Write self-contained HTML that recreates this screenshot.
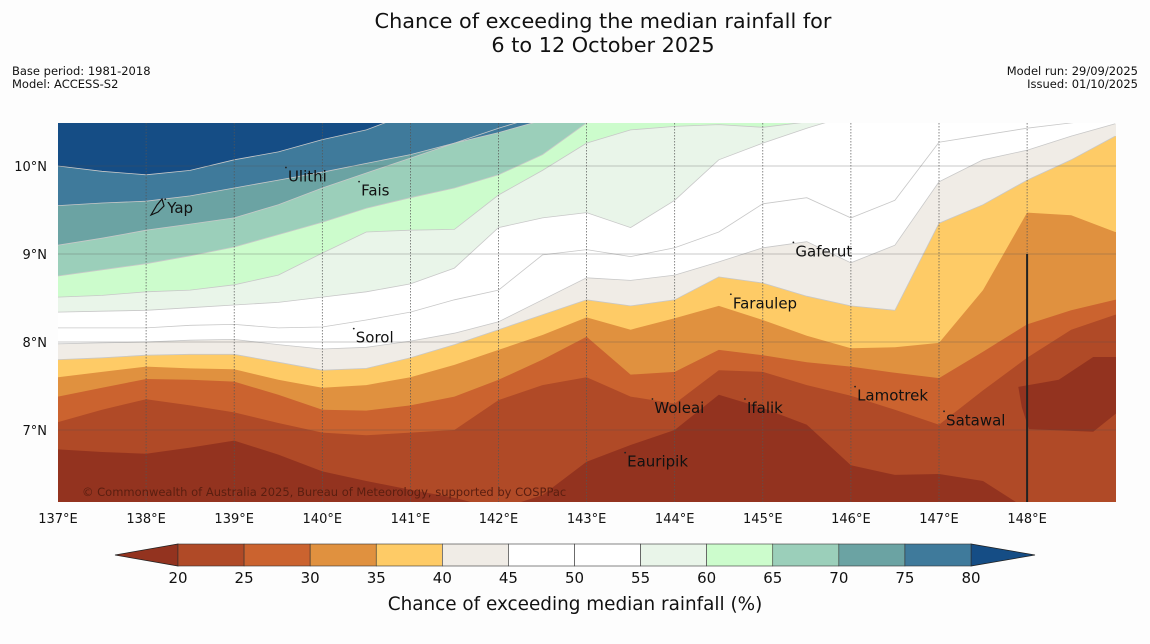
<!DOCTYPE html>
<html><head><meta charset="utf-8">
<style>
html,body{margin:0;padding:0;background:#fdfdfd;}
svg{display:block;font-family:"DejaVu Sans","Liberation Sans",sans-serif;}
</style></head>
<body>
<svg id="chart" width="1150" height="644" viewBox="0 0 1150 644" xmlns="http://www.w3.org/2000/svg">
<rect x="0" y="0" width="1150" height="644" fill="#fdfdfd"/>
<text x="603" y="28" font-size="20.8" text-anchor="middle" fill="#111">Chance of exceeding the median rainfall for</text>
<text x="603" y="52" font-size="20.8" text-anchor="middle" fill="#111">6 to 12 October 2025</text>
<text x="12" y="75" font-size="11.5" fill="#111">Base period: 1981-2018</text>
<text x="12" y="88" font-size="11.5" fill="#111">Model: ACCESS-S2</text>
<text x="1138" y="75" font-size="11.5" fill="#111" text-anchor="end">Model run: 29/09/2025</text>
<text x="1138" y="88" font-size="11.5" fill="#111" text-anchor="end">Issued: 01/10/2025</text>
<defs><clipPath id="mapclip"><rect x="58" y="123" width="1058" height="379"/></clipPath></defs>
<g id="map" clip-path="url(#mapclip)"></g>
<g id="overlay"></g>
<g id="axes"></g>
<g id="cbar"></g>
<text x="575" y="610" font-size="18.4" text-anchor="middle" fill="#111">Chance of exceeding median rainfall (%)</text>
</svg>
<script>
const lons = [137,137.5,138,138.5,139,139.5,140,140.5,141,141.5,142,142.5,143,143.5,144,144.5,145,145.5,146,146.5,147,147.5,148,148.5,149];
const levels = [20,25,30,35,40,45,50,55,60,65,70,75,80];
const bandColors = ["#93331f","#b04a27","#cb632f","#e0913f","#fecb66","#f0ece6","#ffffff","#ffffff","#e9f5e9","#ccfccc","#9bcfba","#6ba3a3","#3f7a9b","#154d85"];
const c20 = [6.78,6.75,6.73,6.80,6.88,6.72,6.53,6.42,6.32,6.23,6.1,6.26,6.64,6.83,7.00,7.40,7.25,7.06,6.60,6.49,6.50,6.42,6.1,6.1,6.1];
const c25 = [7.09,7.23,7.35,7.28,7.20,7.08,6.97,6.94,6.97,7.00,7.34,7.51,7.60,7.38,7.30,7.68,7.66,7.51,7.39,7.23,7.06,7.45,7.82,8.14,8.31];
const c30 = [7.38,7.48,7.58,7.57,7.55,7.40,7.23,7.22,7.28,7.38,7.57,7.80,8.06,7.63,7.66,7.91,7.85,7.77,7.72,7.65,7.59,7.89,8.20,8.36,8.48];
const c35 = [7.60,7.66,7.72,7.70,7.69,7.57,7.48,7.51,7.60,7.74,7.91,8.08,8.28,8.14,8.27,8.41,8.25,8.07,7.93,7.94,7.99,8.59,9.47,9.44,9.25];
const c40 = [7.80,7.82,7.85,7.86,7.86,7.77,7.68,7.70,7.82,7.97,8.14,8.31,8.48,8.41,8.48,8.74,8.67,8.52,8.41,8.36,9.35,9.56,9.84,10.07,10.34];
const c45 = [7.98,7.99,8.00,8.02,8.03,7.97,7.92,7.94,8.01,8.10,8.23,8.48,8.73,8.70,8.76,8.91,9.07,9.14,8.90,9.10,9.82,10.07,10.18,10.34,10.48];
const c50 = [8.16,8.16,8.16,8.19,8.20,8.16,8.17,8.25,8.34,8.48,8.59,8.99,9.05,8.97,9.07,9.25,9.57,9.64,9.41,9.61,10.27,10.35,10.43,10.49,10.55];
const c55 = [8.34,8.35,8.36,8.39,8.42,8.45,8.51,8.57,8.66,8.84,9.30,9.41,9.47,9.30,9.61,10.07,10.26,10.43,10.58,10.7,10.7,10.7,10.7,10.7,10.7];
const c60 = [8.51,8.53,8.57,8.59,8.65,8.76,9.01,9.25,9.27,9.28,9.67,9.95,10.26,10.41,10.45,10.47,10.44,10.50,10.64,10.7,10.7,10.7,10.7,10.7,10.7];
const c65 = [8.75,8.82,8.89,8.98,9.08,9.22,9.36,9.52,9.64,9.75,9.90,10.13,10.49,10.58,10.8,10.8,10.8,10.8,10.8,10.8,10.8,10.8,10.8,10.8,10.8];
const c70 = [9.10,9.18,9.27,9.34,9.41,9.56,9.75,9.92,10.09,10.26,10.43,10.58,10.75,10.8,10.8,10.8,10.8,10.8,10.8,10.8,10.8,10.8,10.8,10.8,10.8];
const c75 = [9.55,9.58,9.60,9.66,9.75,9.84,9.93,10.03,10.13,10.26,10.38,10.52,10.7,10.8,10.8,10.8,10.8,10.8,10.8,10.8,10.8,10.8,10.8,10.8,10.8];
const c80 = [10.00,9.94,9.90,9.95,10.07,10.16,10.30,10.41,10.6,10.8,10.8,10.8,10.8,10.8,10.8,10.8,10.8,10.8,10.8,10.8,10.8,10.8,10.8,10.8,10.8];
const contours = [c20,c25,c30,c35,c40,c45,c50,c55,c60,c65,c70,c75,c80];
const patchLon = [147.90,148.36,148.75,149.1,149.1,148.75,148.02,147.94];
const patchLat = [7.49,7.57,7.83,7.83,7.26,6.98,7.01,7.26];
const stationNames = ["Yap","Ulithi","Fais","Sorol","Gaferut","Faraulep","Woleai","Ifalik","Lamotrek","Satawal","Eauripik"];
const stationLon = [138.24,139.61,140.44,140.38,145.37,144.66,143.77,144.82,146.07,147.08,143.46];
const stationLat = [9.52,9.88,9.72,8.05,9.03,8.44,7.25,7.25,7.39,7.11,6.64];
const xTicks = [137,138,139,140,141,142,143,144,145,146,147,148];
const yTicks = [7,8,9,10];

const NS="http://www.w3.org/2000/svg";
const xS = lon => 58 + (lon-137)*88.1;
const yS = lat => 166 + (10-lat)*88;
function mk(tag, attrs, parent){const e=document.createElementNS(NS,tag);for(const k in attrs)e.setAttribute(k,attrs[k]);parent.appendChild(e);return e;}
const map=document.getElementById('map');
const base=mk('rect',{x:50,y:110,width:1080,height:400,fill:bandColors[0]},map);


contours.forEach((c,i)=>{
  let pts=c.map((lat,j)=>xS(lons[j]).toFixed(1)+','+yS(lat).toFixed(1));
  pts.push(xS(149.5)+','+yS(c[c.length-1]).toFixed(1), xS(149.5)+','+yS(11.5), xS(136.5)+','+yS(11.5), xS(136.5)+','+yS(c[0]).toFixed(1));
  const p=mk('polygon',{points:pts.join(' '),fill:bandColors[i+1]},map);
  
  
});
const patch=mk('polygon',{points:patchLon.map((l,k)=>xS(l).toFixed(1)+','+yS(patchLat[k]).toFixed(1)).join(' '),fill:bandColors[0]},map);


contours.forEach((c,i)=>{
  if(levels[i]<40) return;
  const l=mk('polyline',{points:c.map((lat,j)=>xS(lons[j]).toFixed(1)+','+yS(lat).toFixed(1)).join(' '),fill:'none',stroke:'#c8c8c8','stroke-width':0.8},map);
  
  
});
yTicks.forEach(t=>{
  const g=mk('line',{x1:58,x2:1116,y1:yS(t),y2:yS(t),stroke:'rgba(80,80,80,0.3)','stroke-width':1},map);
  
  
});
xTicks.slice(1).forEach(t=>{
  const g=mk('line',{x1:xS(t),x2:xS(t),y1:123,y2:502,stroke:'#555','stroke-width':0.7,'stroke-dasharray':'1.5,1.5'},map);
  
  
});
const ov=document.getElementById('overlay');
const vl=mk('line',{x1:xS(148),x2:xS(148),y1:yS(9),y2:502,stroke:'#222','stroke-width':2},ov);


stationNames.forEach((n,k)=>{
  const d=mk('circle',{cx:xS(stationLon[k])-2,cy:yS(stationLat[k])-9,r:0.9,fill:'#222'},ov);
  
  
  const t=mk('text',{x:xS(stationLon[k]),y:yS(stationLat[k])+5,'font-size':15,fill:'#111'},ov);
  t.textContent=n;
  
  
});
const yapIcon=mk('path',{d:'M151,215 L157,205 L162,199 L164,206 L158,212 Z',fill:'none',stroke:'#111','stroke-width':1.2},ov);


const cp=mk('text',{x:82,y:496,'font-size':11.5,fill:'#5a1e10'},ov);
cp.textContent='© Commonwealth of Australia 2025, Bureau of Meteorology, supported by COSPPac';


const ax=document.getElementById('axes');
xTicks.forEach(t=>{
  const e=mk('text',{x:xS(t),y:523,'font-size':13,'text-anchor':'middle',fill:'#111'},ax);
  e.textContent=t+'°E';
  
  
});
yTicks.forEach(t=>{
  const e=mk('text',{x:47,y:yS(t)+5,'font-size':13,'text-anchor':'end',fill:'#111'},ax);
  e.textContent=t+'°N';
  
  
});
const cb=document.getElementById('cbar');
const cx = v => 178 + (v-20)*(971-178)/60;
const lt=mk('polygon',{points:`115,555 ${cx(20)},544 ${cx(20)},566`,fill:bandColors[0],stroke:'#222','stroke-width':0.8},cb);


const rt=mk('polygon',{points:`1035,555 ${cx(80)},544 ${cx(80)},566`,fill:bandColors[13],stroke:'#222','stroke-width':0.8},cb);


for(let i=0;i<levels.length-1;i++){
  const r=mk('rect',{x:cx(levels[i]),y:544,width:cx(levels[i+1])-cx(levels[i]),height:22,fill:bandColors[i+1],stroke:'#333','stroke-width':0.6},cb);
  
  
}
levels.forEach(v=>{
  const t=mk('text',{x:cx(v),y:583,'font-size':15,'text-anchor':'middle',fill:'#111'},cb);
  t.textContent=v;
  
  
});
</script>
</body></html>
